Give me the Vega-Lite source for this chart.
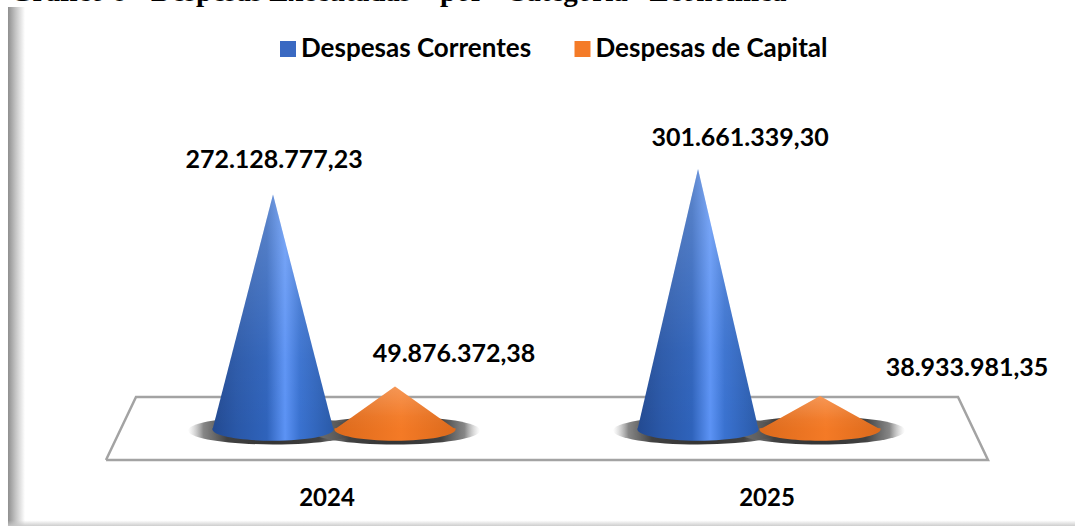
{
"$schema":"https://vega.github.io/schema/vega-lite/v6.json",
"width":1075,"height":526,"padding":0,
"autosize":{"type":"none"},
"background":"white",
"config":{"view":{"stroke":null},"locale":{"number":{"decimal":",","thousands":".","grouping":[3],"currency":["",""]}}},
"datasets":{
"despesas":[
{"ano":"2024","categoria":"Despesas Correntes","vertice":"esq","u":0.7141,"valor":0},
{"ano":"2024","categoria":"Despesas Correntes","vertice":"topo","u":0.8565,"valor":272128777.23},
{"ano":"2024","categoria":"Despesas Correntes","vertice":"dir","u":0.9988,"valor":0},
{"ano":"2024","categoria":"Despesas de Capital","vertice":"esq","u":1.0012,"valor":0},
{"ano":"2024","categoria":"Despesas de Capital","vertice":"topo","u":1.1435,"valor":49876372.38},
{"ano":"2024","categoria":"Despesas de Capital","vertice":"dir","u":1.2859,"valor":0},
{"ano":"2025","categoria":"Despesas Correntes","vertice":"esq","u":1.7141,"valor":0},
{"ano":"2025","categoria":"Despesas Correntes","vertice":"topo","u":1.8565,"valor":301661339.30},
{"ano":"2025","categoria":"Despesas Correntes","vertice":"dir","u":1.9988,"valor":0},
{"ano":"2025","categoria":"Despesas de Capital","vertice":"esq","u":2.0012,"valor":0},
{"ano":"2025","categoria":"Despesas de Capital","vertice":"topo","u":2.1435,"valor":38933981.35},
{"ano":"2025","categoria":"Despesas de Capital","vertice":"dir","u":2.2859,"valor":0}
],
"piso":[
{"ordem":1,"u":0.4635,"valor":-35200000},
{"ordem":2,"u":0.5341,"valor":37700000},
{"ordem":3,"u":2.4682,"valor":37700000},
{"ordem":4,"u":2.5388,"valor":-35200000},
{"ordem":5,"u":0.4635,"valor":-35200000}
],
"anos":[{"ano":"2024","u":0.9835,"valor":-80000000},{"ano":"2025","u":2.0188,"valor":-80000000}],
"moldura":[{"u":0.2329,"u2":0.2729,"valor":489100000,"valor2":-111600000}],
"rodape":[{"u":0.2329,"u2":2.7435,"valor":-105000000,"valor2":-111600000}],
"titulo":[{"texto":"Gráfico 8 - Despesas Executadas\u00a0\u00a0\u00a0 por\u00a0\u00a0 Categoria\u00a0\u00a0 Econômica","u":0.2376,"valor":496300000}]
},
"encoding":{
"x":{"field":"u","type":"quantitative","axis":null,"scale":{"domain":[0.2141,2.7435],"nice":false,"zero":false}},
"y":{"field":"valor","type":"quantitative","axis":null,"stack":null,"scale":{"domain":[-111600000,497200000],"nice":false,"zero":false}}
},
"layer":[
{"data":{"name":"titulo"},"mark":{"type":"text","align":"left","baseline":"alphabetic","font":"Liberation Serif","fontWeight":"bold","fontSize":29,"color":"#000000"},"encoding":{"text":{"field":"texto"}}},
{"data":{"name":"moldura"},"mark":{"type":"rect","color":{"gradient":"linear","x1":0,"x2":1,"y1":0,"y2":0,"stops":[{"offset":0,"color":"#8f8f8f"},{"offset":0.45,"color":"#c4c4c4"},{"offset":1,"color":"#ffffff"}]}},"encoding":{"x2":{"field":"u2"},"y2":{"field":"valor2"}}},
{"data":{"name":"rodape"},"mark":{"type":"rect","color":{"gradient":"linear","x1":0,"x2":0,"y1":0,"y2":1,"stops":[{"offset":0,"color":"rgba(200,200,200,0)"},{"offset":1,"color":"rgba(200,200,200,0.9)"}]}},"encoding":{"x2":{"field":"u2"},"y2":{"field":"valor2"}}},
{"data":{"name":"piso"},"mark":{"type":"line","color":"#a3a3a3","strokeWidth":2.5,"strokeJoin":"miter"},"encoding":{"order":{"field":"ordem","type":"quantitative"}}},
{"data":{"name":"despesas"},"transform":[{"filter":"datum.vertice=='topo'"}],"mark":{"type":"point","filled":true,"opacity":1,"size":28900,"shape":"M-1,0A1,0.165,0,1,0,1,0A1,0.165,0,1,0,-1,0Z","fill":{"gradient":"radial","x1":0.5,"y1":0.5,"r1":0,"x2":0.5,"y2":0.5,"r2":0.5,"stops":[{"offset":0,"color":"rgba(50,50,50,1)"},{"offset":0.55,"color":"rgba(65,65,65,1)"},{"offset":0.82,"color":"rgba(105,105,105,0.8)"},{"offset":1,"color":"rgba(170,170,170,0)"}]}},"encoding":{"y":{"datum":-1000000}}},
{"data":{"name":"despesas"},"transform":[{"filter":"datum.vertice=='topo' && datum.categoria=='Despesas Correntes'"}],"mark":{"type":"point","filled":true,"opacity":1,"size":14641,"shape":"M-1,-0.02L1,-0.02L1,0A1,0.185,0,0,1,-1,0Z","fill":{"gradient":"linear","x1":0,"x2":1,"y1":0,"y2":0,"stops":[{"offset":0,"color":"#234a91"},{"offset":0.2,"color":"#2a58a8"},{"offset":0.45,"color":"#2f63bb"},{"offset":0.6,"color":"#5c93f5"},{"offset":0.72,"color":"#3a72d0"},{"offset":1,"color":"#2a5aa8"}]}},"encoding":{"y":{"datum":0}}},
{"data":{"name":"despesas"},"transform":[{"filter":"datum.categoria=='Despesas Correntes'"}],"mark":{"type":"area","orient":"vertical","fill":{"gradient":"linear","x1":0,"x2":1,"y1":0,"y2":0,"stops":[{"offset":0,"color":"#234a91"},{"offset":0.2,"color":"#2a58a8"},{"offset":0.45,"color":"#2f63bb"},{"offset":0.6,"color":"#5c93f5"},{"offset":0.72,"color":"#3a72d0"},{"offset":1,"color":"#2a5aa8"}]}},"encoding":{"detail":{"field":"ano"},"y2":{"datum":0}}},
{"data":{"name":"despesas"},"transform":[{"filter":"datum.vertice=='topo' && datum.categoria=='Despesas de Capital'"}],"mark":{"type":"point","filled":true,"opacity":1,"size":14641,"shape":"M-1,-0.02L1,-0.02L1,0A1,0.185,0,0,1,-1,0Z","fill":{"gradient":"linear","x1":0,"x2":1,"y1":0,"y2":0,"stops":[{"offset":0,"color":"#dc6a1c"},{"offset":0.55,"color":"#f47a26"},{"offset":1,"color":"#dc6a1c"}]}},"encoding":{"y":{"datum":0}}},
{"data":{"name":"despesas"},"transform":[{"filter":"datum.categoria=='Despesas de Capital'"}],"mark":{"type":"area","orient":"vertical","fill":{"gradient":"linear","x1":0,"x2":1,"y1":0,"y2":0,"stops":[{"offset":0,"color":"#dc6a1c"},{"offset":0.55,"color":"#f47a26"},{"offset":1,"color":"#dc6a1c"}]}},"encoding":{"detail":{"field":"ano"},"y2":{"datum":0}}},
{"data":{"name":"despesas"},"mark":{"type":"area","orient":"vertical","fill":{"gradient":"linear","x1":0,"x2":0,"y1":0,"y2":1,"stops":[{"offset":0,"color":"rgba(255,255,255,0.22)"},{"offset":0.7,"color":"rgba(255,255,255,0.03)"},{"offset":1,"color":"rgba(255,255,255,0)"}]}},"encoding":{"detail":[{"field":"ano"},{"field":"categoria"}],"y2":{"datum":0}}},
{"data":{"name":"despesas"},"transform":[{"filter":"datum.vertice=='topo'"}],"mark":{"type":"point","filled":true,"opacity":0},"encoding":{"color":{"field":"categoria","type":"nominal","scale":{"domain":["Despesas Correntes","Despesas de Capital"],"range":["#3a69c2","#f47b28"]},"legend":{"title":null,"orient":"none","legendX":275,"legendY":36,"direction":"horizontal","symbolType":"square","symbolSize":256,"symbolOpacity":1,"labelFont":"Lato","labelFontWeight":"bold","labelFontSize":26,"labelColor":"#000000","labelOffset":0,"columnPadding":37.5,"labelLimit":400}}}},
{"data":{"name":"anos"},"mark":{"type":"text","align":"center","baseline":"middle","font":"Lato","fontWeight":"bold","fontSize":24,"color":"#000000"},"encoding":{"text":{"field":"ano"}}},
{"data":{"name":"despesas"},"transform":[{"filter":"datum.vertice=='topo' && datum.ano=='2024' && datum.categoria=='Despesas Correntes'"}],"mark":{"type":"text","align":"center","baseline":"middle","font":"Lato","fontWeight":"bold","fontSize":25,"color":"#000000","dx":1,"dy":-34.5},"encoding":{"text":{"field":"valor","type":"quantitative","format":",.2f"}}},
{"data":{"name":"despesas"},"transform":[{"filter":"datum.vertice=='topo' && datum.ano=='2024' && datum.categoria=='Despesas de Capital'"}],"mark":{"type":"text","align":"center","baseline":"middle","font":"Lato","fontWeight":"bold","fontSize":25,"color":"#000000","dx":59,"dy":-32.5},"encoding":{"text":{"field":"valor","type":"quantitative","format":",.2f"}}},
{"data":{"name":"despesas"},"transform":[{"filter":"datum.vertice=='topo' && datum.ano=='2025' && datum.categoria=='Despesas Correntes'"}],"mark":{"type":"text","align":"center","baseline":"middle","font":"Lato","fontWeight":"bold","fontSize":25,"color":"#000000","dx":42,"dy":-31},"encoding":{"text":{"field":"valor","type":"quantitative","format":",.2f"}}},
{"data":{"name":"despesas"},"transform":[{"filter":"datum.vertice=='topo' && datum.ano=='2025' && datum.categoria=='Despesas de Capital'"}],"mark":{"type":"text","align":"center","baseline":"middle","font":"Lato","fontWeight":"bold","fontSize":25,"color":"#000000","dx":147,"dy":-28},"encoding":{"text":{"field":"valor","type":"quantitative","format":",.2f"}}}
]
}
